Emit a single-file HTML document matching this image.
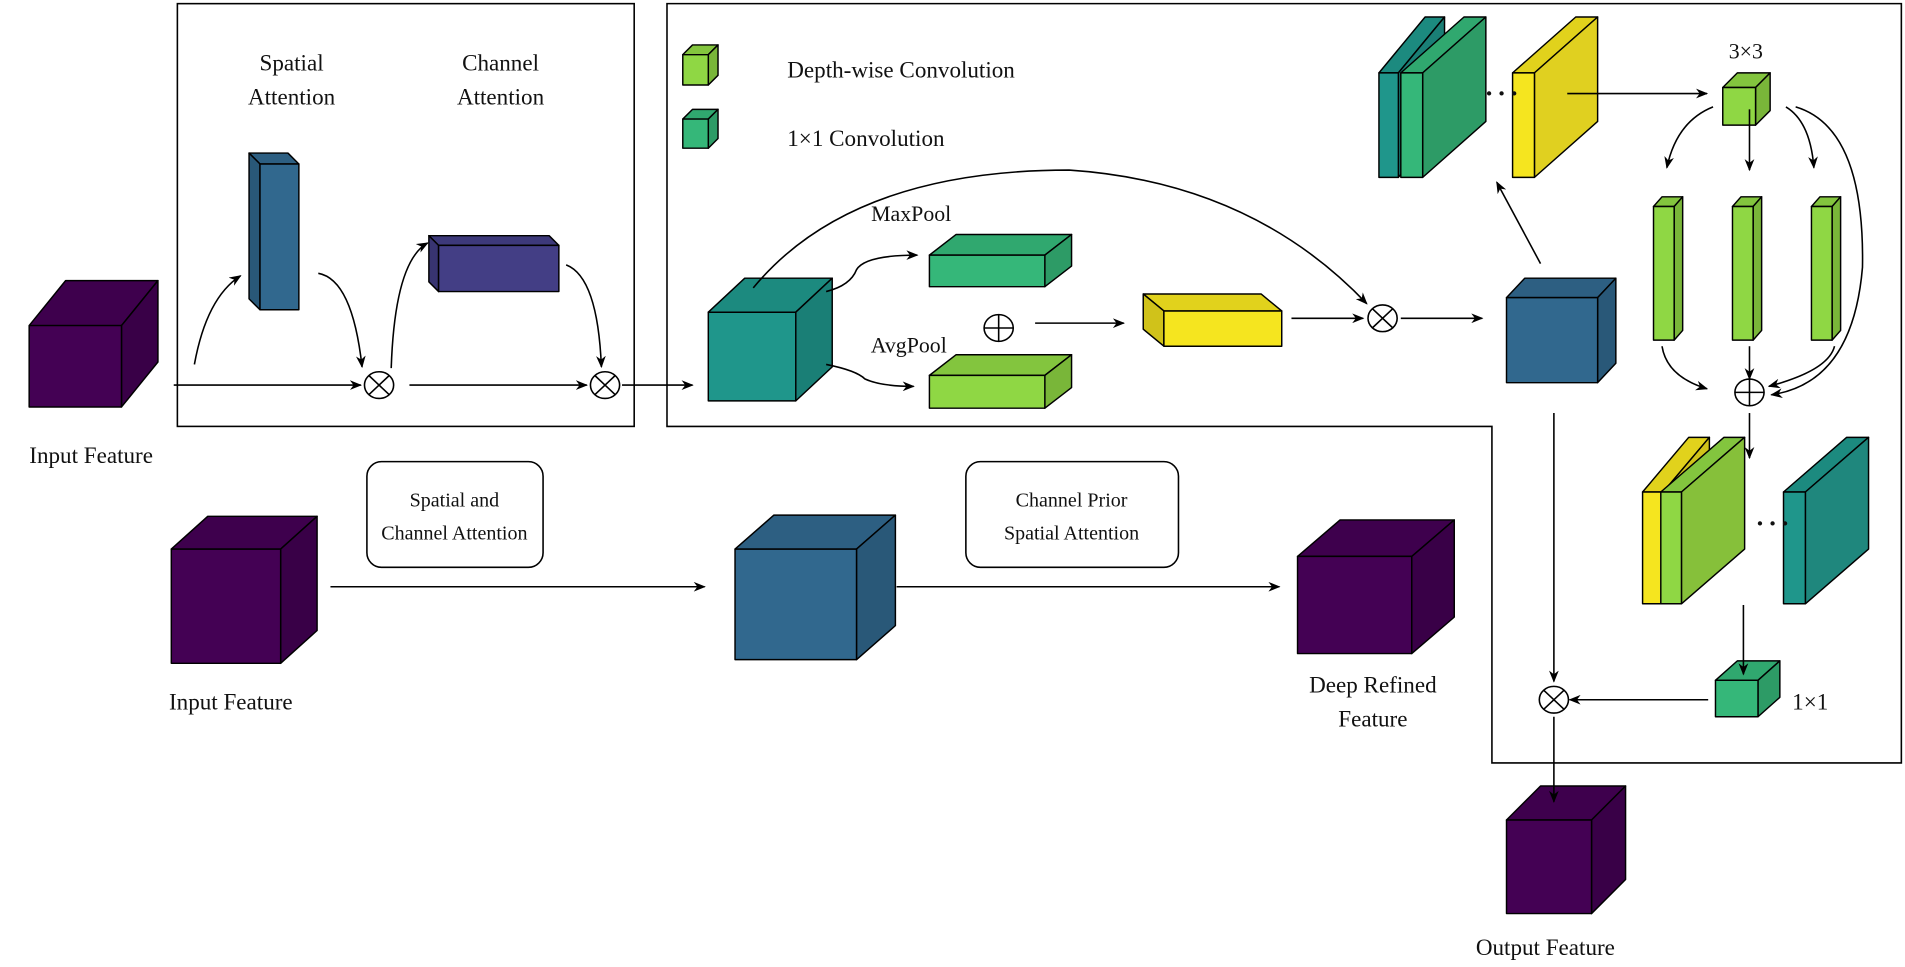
<!DOCTYPE html>
<html><head><meta charset="utf-8"><style>
html,body{margin:0;padding:0;background:#fff;}
svg{display:block;}
text{font-family:"Liberation Serif",serif;fill:#111;}
</style></head><body>
<svg id="s" width="1905" height="967" viewBox="0 0 1568 796" preserveAspectRatio="none" xmlns="http://www.w3.org/2000/svg">
<defs><marker id="a" markerWidth="10" markerHeight="8" refX="9" refY="4" orient="auto" markerUnits="userSpaceOnUse"><path d="M0,0 L10,4 L0,8 L3,4 Z" fill="#000"/></marker></defs>
<g fill="none" stroke="#000" stroke-width="1.3">
<rect x="146" y="3" width="376" height="348"/>
<path d="M549,3 H1565 V628 H1228 V351 H549 Z"/>
<rect x="302" y="380" width="145" height="87" rx="12"/>
<rect x="795" y="380" width="175" height="87" rx="12"/>
</g>
<g id="shapes"></g>
<g fill="none" stroke="#000" stroke-width="1.3" marker-end="url(#a)">
<path d="M143,317 H297"/>
<path d="M160,300 Q170,245 198,227"/>
<path d="M262,225 Q290,230 298,302"/>
<path d="M322,303 Q325,215 352,200"/>
<path d="M466,218 Q492,228 495,302"/>
<path d="M337,317 H483"/>
<path d="M512,317 H570"/>
<path d="M620,237 Q700,140 880,140 Q1030,150 1125,250"/>
<path d="M680,240 Q700,235 705,222 Q712,210 755,210"/>
<path d="M680,300 Q705,305 712,312 Q725,318 752,318"/>
<path d="M852,266 H925"/>
<path d="M1063,262 H1122"/>
<path d="M1153,262 H1220"/>
<path d="M1268,217 L1232,150"/>
<path d="M1290,77 H1405"/>
<path d="M1410,88 Q1380,100 1372,138"/>
<path d="M1440,90 V140"/>
<path d="M1470,88 Q1490,100 1493,138"/>
<path d="M1478,88 Q1535,105 1533,220 Q1525,315 1458,325"/>
<path d="M1368,285 Q1372,310 1405,320"/>
<path d="M1440,285 V312"/>
<path d="M1510,285 Q1505,305 1456,318"/>
<path d="M1440,340 V377"/>
<path d="M1435,498 V555"/>
<path d="M1406,576 H1292"/>
<path d="M1279,340 V561"/>
<path d="M1279,590 V660"/>
<path d="M272,483 H580"/>
<path d="M738,483 H1053"/>
</g>
<g fill="none" stroke="#000" stroke-width="1.3" id="ops"></g>
<g font-size="19" text-anchor="middle">
<text x="240" y="58">Spatial</text><text x="240" y="86">Attention</text>
<text x="412" y="58">Channel</text><text x="412" y="86">Attention</text>
<text x="75" y="381">Input Feature</text>
<text x="750" y="182" font-size="18">MaxPool</text>
<text x="748" y="290" font-size="18">AvgPool</text>
<text x="374" y="417" font-size="16.5">Spatial and</text><text x="374" y="444" font-size="16.5">Channel Attention</text>
<text x="882" y="417" font-size="16.5">Channel Prior</text><text x="882" y="444" font-size="16.5">Spatial Attention</text>
<text x="190" y="584">Input Feature</text>
<text x="1130" y="570">Deep Refined</text><text x="1130" y="598">Feature</text>
<text x="1272" y="786">Output Feature</text>
<text x="1437" y="48" font-size="18">3×3</text>
<text x="1490" y="584">1×1</text>
</g>
<g font-size="19"><text x="648" y="64">Depth-wise Convolution</text><text x="648" y="120">1×1 Convolution</text></g>
<g font-size="22" font-weight="bold"><text x="1222" y="84" letter-spacing="3">···</text><text x="1445" y="438" letter-spacing="3">···</text></g>
</svg>
<script>
var NS="http://www.w3.org/2000/svg",g=document.getElementById("shapes");
function poly(pts,fill){var p=document.createElementNS(NS,"polygon");p.setAttribute("points",pts.map(function(a){return a.join(",")}).join(" "));p.setAttribute("fill",fill);p.setAttribute("stroke","#000");p.setAttribute("stroke-width","1.2");p.setAttribute("stroke-linejoin","round");g.appendChild(p);}
function dk(c,f){var n=parseInt(c.slice(1),16),r=(n>>16)*f|0,gg=((n>>8)&255)*f|0,b=(n&255)*f|0;return "rgb("+r+","+gg+","+b+")";}
function cube(x,y,w,h,dx,dy,c,sc){poly([[x,y],[x+dx,y-dy],[x+w+dx,y-dy],[x+w,y]],dk(c,0.92));poly([[x+w,y],[x+w+dx,y-dy],[x+w+dx,y+h-dy],[x+w,y+h]],sc||dk(c,0.85));poly([[x,y],[x+w,y],[x+w,y+h],[x,y+h]],c);}
function cubeL(x,y,w,h,dx,dy,c){poly([[x,y],[x-dx,y-dy],[x+w-dx,y-dy],[x+w,y]],dk(c,0.92));poly([[x,y],[x-dx,y-dy],[x-dx,y+h-dy],[x,y+h]],dk(c,0.85));poly([[x,y],[x+w,y],[x+w,y+h],[x,y+h]],c);}
var P="#440154",B="#31688e",T="#1f968b",G="#35b779",L="#8fd744",Y="#f5e51f",I="#433e85";
cube(24,268,76,67,30,37,P);
cubeL(214,135,32,120,9,9,B);
cubeL(361,202,99,38,8,8,I);
cube(562,45,21,25,8,8,L);
cube(562,98,21,24,8,8,G);
cube(583,257,72,73,30,28,T);
cube(765,210,95,26,22,17,G);
cube(765,309,95,27,22,17,L);
cubeL(958,256,97,29,17,14,Y);
cube(1240,245,75,70,15,16,B);
cube(1135,60,16,86,38,46,T);
cube(1153,60,18,86,52,46,G);
cube(1245,60,18,86,52,46,Y,"#e0d020");
cube(1418,72,27,31,12,12,L);
cube(1361,170,17,110,7,8,L);
cube(1426,170,17,110,7,8,L);
cube(1491,170,17,110,7,8,L);
cube(1352,405,17,92,38,45,Y);
cube(1367,405,17,92,52,45,L,"#86c03a");
cube(1468,405,18,92,52,45,T,"#1f877d");
cube(1412,560,35,30,18,16,G);
cube(1240,675,70,77,28,28,P);
cube(141,452,90,94,30,27,P);
cube(605,452,100,91,32,28,B);
cube(1068,458,94,80,35,30,P);
var o=document.getElementById("ops");
function op(x,y,plus){var c=document.createElementNS(NS,"ellipse");c.setAttribute("cx",x);c.setAttribute("cy",y);c.setAttribute("rx",12);c.setAttribute("ry",11);o.appendChild(c);var p=document.createElementNS(NS,"path");var d=plus?"M"+(x-12)+","+y+"H"+(x+12)+"M"+x+","+(y-11)+"V"+(y+11):"M"+(x-8.5)+","+(y-8)+"L"+(x+8.5)+","+(y+8)+"M"+(x+8.5)+","+(y-8)+"L"+(x-8.5)+","+(y+8);p.setAttribute("d",d);o.appendChild(p);}
op(312,317);op(498,317);op(822,270,1);op(1138,262);op(1440,323,1);op(1279,576);
</script>
</body></html>
